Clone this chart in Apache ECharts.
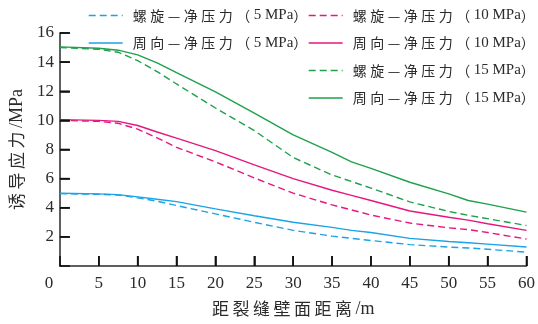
<!DOCTYPE html>
<html>
<head>
<meta charset="utf-8">
<script src="https://cdn.jsdelivr.net/npm/echarts@6/dist/echarts.min.js"></script>
<style>
  html, body { margin: 0; padding: 0; background: #fff; }
  #chart { width: 538px; height: 324px; }
</style>
</head>
<body>
<div id="chart"></div>
<script>
// Distance from the fracture wall (m)
const distance = [0, 5, 7.5, 10, 12.5, 15, 20, 25, 30, 35, 37.5, 40, 45, 50, 52.5, 55, 60];

// Induced stress (MPa) for spiral and hoop fractures at three net pressures
const spiral5  = [4.97, 4.92, 4.87, 4.68, 4.45, 4.15, 3.58, 3.00, 2.45, 2.05, 1.90, 1.75, 1.47, 1.30, 1.24, 1.15, 0.95];
const hoop5    = [5.00, 4.95, 4.90, 4.75, 4.58, 4.42, 3.92, 3.45, 3.00, 2.65, 2.45, 2.30, 1.90, 1.68, 1.60, 1.50, 1.30];
const spiral10 = [10.00, 9.93, 9.80, 9.40, 8.80, 8.15, 7.15, 6.05, 5.00, 4.20, 3.85, 3.50, 2.95, 2.62, 2.50, 2.30, 1.85];
const hoop10   = [10.05, 10.00, 9.93, 9.65, 9.20, 8.78, 7.92, 6.95, 6.00, 5.20, 4.85, 4.50, 3.78, 3.35, 3.15, 2.90, 2.45];
const spiral15 = [15.00, 14.88, 14.68, 14.10, 13.35, 12.50, 10.85, 9.30, 7.45, 6.25, 5.80, 5.35, 4.40, 3.75, 3.48, 3.25, 2.78];
const hoop15   = [15.05, 14.95, 14.82, 14.50, 13.95, 13.28, 11.95, 10.50, 9.00, 7.80, 7.15, 6.70, 5.75, 4.95, 4.50, 4.25, 3.70];

// Positions of the inward tick marks on each axis
const xTicks = [5, 10, 15, 20, 25, 30, 35, 40, 45, 50, 55, 60];
const yTicks = [2, 4, 6, 8, 10, 12, 14, 16];

const seriesNames = [
  '螺旋—净压力（5 MPa）', '周向—净压力（5 MPa）',
  '螺旋—净压力（10 MPa）', '周向—净压力（10 MPa）',
  '螺旋—净压力（15 MPa）', '周向—净压力（15 MPa）'
];
const yTitle = '诱导应力/MPa';
const xTitle = '距裂缝壁面距离/m';

const CYAN = '#1aa3e6', MAGENTA = '#e6177f', GREEN = '#1ea04c';
const INK = '#2b2b2b';
const TICK = '#111111';
const CJK = 'Noto Sans CJK SC';
const SERIF = 'Liberation Serif';
const TICK_LEN = 10;

// Wrap CJK glyphs and latin runs in separate rich-text styles so the
// Chinese characters get extra tracking and the numbers use a serif face.
function spaced(s, cjkKey, latinKey) {
  let out = '', buf = '';
  for (const ch of s) {
    if (ch.charCodeAt(0) > 0x2000) {
      if (buf) { out += '{' + latinKey + '|' + buf + '}'; buf = ''; }
      out += '{' + cjkKey + '|' + ch + '}';
    } else {
      buf += ch;
    }
  }
  if (buf) out += '{' + latinKey + '|' + buf + '}';
  return out;
}

const legendRich = {
  c: { fontFamily: CJK, fontSize: 14, color: INK, padding: [0, 3.5, 0, 0] },
  n: { fontFamily: SERIF, fontSize: 15, color: INK }
};
const titleRich = {
  c: { fontFamily: CJK, fontSize: 17, color: INK, padding: [0, 3.5, 0, 0] },
  n: { fontFamily: SERIF, fontSize: 18, color: INK }
};

function makeSeries(name, values, color, dashed) {
  return {
    name: name,
    type: 'line',
    data: distance.map((d, i) => [d, values[i]]),
    symbol: 'none',
    showSymbol: false,
    smooth: false,
    itemStyle: { color: color },
    lineStyle: { color: color, width: 1.4, type: dashed ? [7, 4] : 'solid' },
    emphasis: { disabled: true }
  };
}

// Short inward strokes placed through the axis scales, on their own layer
function tickSeries(points, vertical) {
  return {
    type: 'custom',
    clip: false,
    zlevel: 1,
    z: 10,
    data: points,
    renderItem: (params, api) => {
      const p = api.coord([api.value(0), api.value(1)]);
      const shape = vertical
        ? { x1: p[0], y1: p[1], x2: p[0], y2: p[1] - TICK_LEN }
        : { x1: p[0], y1: p[1], x2: p[0] + TICK_LEN, y2: p[1] };
      return { type: 'line', shape: shape, style: { stroke: TICK, lineWidth: 1.6, opacity: 1 } };
    }
  };
}

const legendBase = {
  orient: 'vertical',
  top: 3,
  itemWidth: 34,
  itemHeight: 14,
  itemGap: 12.5,
  formatter: name => spaced(name, 'c', 'n'),
  itemStyle: { opacity: 0 },
  lineStyle: { width: 1.4 },
  textStyle: { color: INK, padding: [0, 0, 0, 5], rich: legendRich },
  selectedMode: false
};

const chart = echarts.init(document.getElementById('chart'), null, { renderer: 'canvas' });
chart.setOption({
  animation: false,
  grid: { left: 59, right: 7, top: 33, bottom: 58, containLabel: false },
  legend: [
    Object.assign({}, legendBase, { left: 83, data: seriesNames.slice(0, 2) }),
    Object.assign({}, legendBase, { left: 303, data: seriesNames.slice(2) })
  ],
  xAxis: {
    type: 'value',
    min: 0, max: 60, interval: 5,
    name: spaced(xTitle, 'c', 'n'),
    nameLocation: 'middle',
    nameGap: 34,
    nameTextStyle: { rich: titleRich },
    axisLine: { show: true, lineStyle: { color: INK, width: 1.5 } },
    axisTick: { show: true, inside: true, length: TICK_LEN, lineStyle: { color: TICK, width: 1.6 } },
    splitLine: { show: false },
    axisLabel: {
      margin: 9,
      color: INK,
      fontFamily: SERIF,
      fontSize: 17,
      formatter: v => (v === 0 ? '{z|0}' : String(v)),
      rich: { z: { fontFamily: SERIF, fontSize: 17, color: INK, padding: [0, 22, 0, 0] } }
    }
  },
  yAxis: {
    type: 'value',
    min: 0, max: 16, interval: 2,
    name: spaced(yTitle, 'c', 'n'),
    nameLocation: 'middle',
    nameGap: 33,
    nameTextStyle: { rich: titleRich },
    axisLine: { show: true, lineStyle: { color: INK, width: 1.5 } },
    axisTick: { show: true, inside: true, length: TICK_LEN, lineStyle: { color: TICK, width: 1.6 } },
    splitLine: { show: false },
    axisLabel: {
      margin: 6,
      color: INK,
      fontFamily: SERIF,
      fontSize: 17,
      formatter: v => (v === 0 ? '' : String(v))
    }
  },
  series: [
    makeSeries(seriesNames[0], spiral5, CYAN, true),
    makeSeries(seriesNames[1], hoop5, CYAN, false),
    makeSeries(seriesNames[2], spiral10, MAGENTA, true),
    makeSeries(seriesNames[3], hoop10, MAGENTA, false),
    makeSeries(seriesNames[4], spiral15, GREEN, true),
    makeSeries(seriesNames[5], hoop15, GREEN, false),
    tickSeries(xTicks.map(v => [v, 0]), true),
    tickSeries(yTicks.map(v => [0, v]), false)
  ]
});
</script>
</body>
</html>
